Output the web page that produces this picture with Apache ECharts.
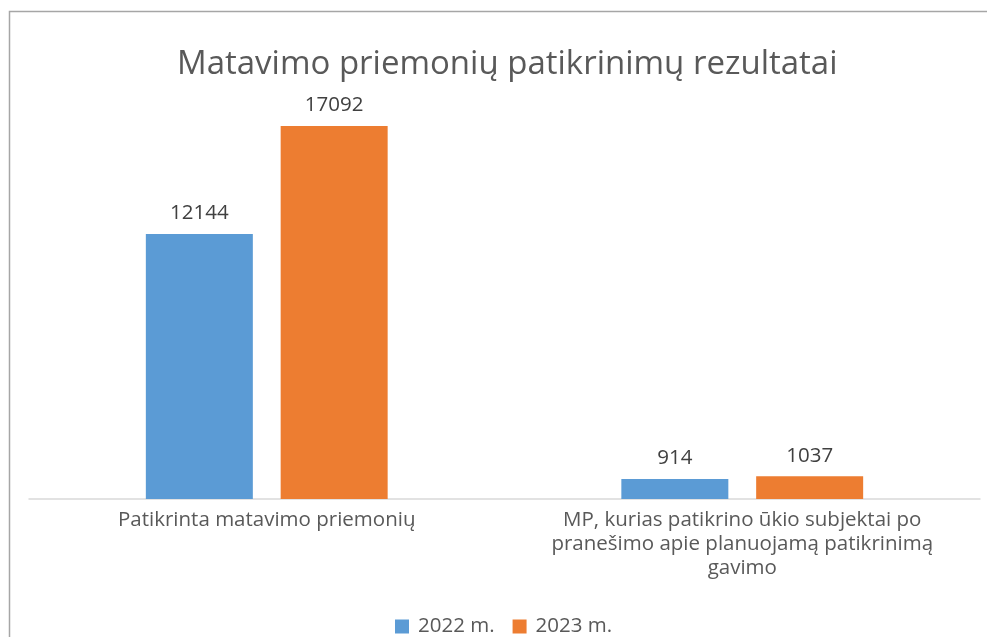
<!DOCTYPE html>
<html>
<head>
<meta charset="utf-8">
<script src="https://cdn.jsdelivr.net/npm/echarts@6/dist/echarts.min.js"></script>
<style>
  html, body { margin: 0; padding: 0; background: #fff; }
  #chart { width: 987px; height: 637px; }
</style>
</head>
<body>
<div id="chart"></div>
<script>
// kategorijos ir reikšmės
const categories = [
  "Patikrinta matavimo priemonių",
  "MP, kurias patikrino ūkio subjektai po\npranešimo apie planuojamą patikrinimą\ngavimo",
];
const seriesNames = ["2022 m.", "2023 m."];
const values2022 = [12144, 914];
const values2023 = [17092, 1037];

const font = "'Open Sans', 'Noto Sans', sans-serif";

const chart = echarts.init(document.getElementById("chart"));

const labelStyle = {
  show: true,
  position: "top",
  distance: 10,
  color: "#404040",
  fontSize: 20.5,
  fontFamily: font,
};

chart.setOption({
  animation: false,
  // rėmelis
  graphic: [
    {
      type: "rect",
      shape: { x: 9.5, y: 11.5, width: 1000, height: 700 },
      style: { fill: "none", stroke: "#a6a6a6", lineWidth: 1.5 },
    },
  ],
  title: {
    text: "Matavimo priemonių patikrinimų rezultatai",
    left: 172,
    top: 43,
    textStyle: {
      color: "#595959",
      fontSize: 33,
      fontWeight: "normal",
      fontFamily: font,
    },
  },
  legend: {
    top: 611,
    left: 390,
    itemWidth: 14,
    itemHeight: 14,
    itemGap: 18,
    icon: "rect",
    textStyle: {
      color: "#595959",
      fontSize: 20.5,
      fontFamily: font,
      padding: [0, 0, 0, 4],
    },
    data: seriesNames,
  },
  grid: {
    left: 29,
    right: 7,
    top: 62.5,
    bottom: 138,
  },
  xAxis: {
    type: "category",
    data: categories,
    axisLine: { lineStyle: { color: "#d9d9d9", width: 1.5 } },
    axisTick: { show: false },
    axisLabel: {
      color: "#595959",
      fontSize: 20.5,
      fontFamily: font,
      lineHeight: 24,
      margin: 9,
      interval: 0,
    },
  },
  yAxis: {
    type: "value",
    min: 0,
    max: 20000,
    show: false,
  },
  series: [
    {
      name: seriesNames[0],
      type: "bar",
      data: values2022,
      barWidth: 107,
      barGap: "26%",
      itemStyle: { color: "#5b9bd5" },
      label: labelStyle,
    },
    {
      name: seriesNames[1],
      type: "bar",
      data: values2023,
      barWidth: 107,
      itemStyle: { color: "#ed7d31" },
      label: labelStyle,
    },
  ],
});
</script>
</body>
</html>
